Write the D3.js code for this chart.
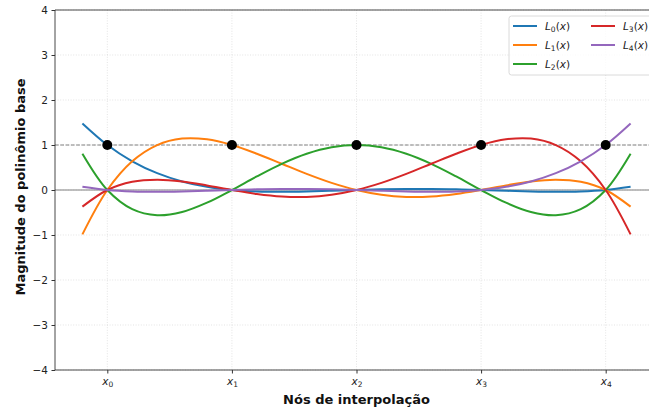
<!DOCTYPE html>
<html>
<head>
<meta charset="utf-8">
<script src="https://cdn.jsdelivr.net/npm/d3@7/dist/d3.min.js"></script>
<style>
  body { margin: 0; background: #fff; }
  svg { display: block; font-family: "DejaVu Sans", sans-serif; }
</style>
</head>
<body>
<svg id="chart" width="649" height="410"></svg>
<script>
// Interpolation nodes and sample abscissae
const nodes = [0, 1, 2, 3, 4];
const nodeLabels = ["0", "1", "2", "3", "4"];
const xs = [-0.2, 0, 0.2, 0.4, 0.6, 0.8, 1, 1.2, 1.4, 1.6, 1.8, 2, 2.2, 2.4, 2.6, 2.8, 3, 3.2, 3.4, 3.6, 3.8, 4, 4.2];

// Lagrange basis polynomial values at xs
const L0 = [1.4784, 1, 0.6384, 0.3744, 0.1904, 0.0704, 0, -0.0336, -0.0416, -0.0336, -0.0176, 0, 0.0144, 0.0224, 0.0224, 0.0144, 0, -0.0176, -0.0336, -0.0416, -0.0336, 0, 0.0704];
const L1 = [-0.9856, 0, 0.6384, 0.9984, 1.1424, 1.1264, 1, 0.8064, 0.5824, 0.3584, 0.1584, 0, -0.1056, -0.1536, -0.1456, -0.0896, 0, 0.1024, 0.1904, 0.2304, 0.1824, 0, -0.3696];
const L2 = [0.8064, 0, -0.4256, -0.5616, -0.4896, -0.2816, 0, 0.3024, 0.5824, 0.8064, 0.9504, 1, 0.9504, 0.8064, 0.5824, 0.3024, 0, -0.2816, -0.4896, -0.5616, -0.4256, 0, 0.8064];
const L3 = [-0.3696, 0, 0.1824, 0.2304, 0.1904, 0.1024, 0, -0.0896, -0.1456, -0.1536, -0.1056, 0, 0.1584, 0.3584, 0.5824, 0.8064, 1, 1.1264, 1.1424, 0.9984, 0.6384, 0, -0.9856];
const L4 = [0.0704, 0, -0.0336, -0.0416, -0.0336, -0.0176, 0, 0.0144, 0.0224, 0.0224, 0.0144, 0, -0.0176, -0.0336, -0.0416, -0.0336, 0, 0.0704, 0.1904, 0.3744, 0.6384, 1, 1.4784];

const seriesNames = ["0", "1", "2", "3", "4"];
const seriesValues = [L0, L1, L2, L3, L4];
const colors = ["#1f77b4", "#ff7f0e", "#2ca02c", "#d62728", "#9467bd"];
const yTicks = [-4, -3, -2, -1, 0, 1, 2, 3, 4];

const svg = d3.select("#chart");
const m = { left: 55, top: 10, right: 658, bottom: 370 };

const x = d3.scaleLinear().domain([-0.42, 4.42]).range([m.left, m.right]);
const y = d3.scaleLinear().domain([-4, 4]).range([m.bottom, m.top]);

svg.append("defs").append("clipPath").attr("id", "plotClip")
  .append("rect").attr("x", m.left).attr("y", m.top)
  .attr("width", m.right - m.left).attr("height", m.bottom - m.top);

// Grid
const grid = svg.append("g").attr("stroke", "#cfcfcf").attr("stroke-opacity", 0.7)
  .attr("stroke-width", 0.8).attr("stroke-dasharray", "1,1.6");
grid.selectAll("line.gy").data(yTicks).join("line")
  .attr("x1", m.left).attr("x2", m.right)
  .attr("y1", d => y(d)).attr("y2", d => y(d));
grid.selectAll("line.gx").data(nodes).join("line")
  .attr("x1", d => x(d)).attr("x2", d => x(d))
  .attr("y1", m.top).attr("y2", m.bottom);

const plot = svg.append("g").attr("clip-path", "url(#plotClip)");

// Reference lines at 0 and 1
plot.append("line").attr("x1", m.left).attr("x2", m.right)
  .attr("y1", y(0)).attr("y2", y(0))
  .attr("stroke", "#808080").attr("stroke-width", 1);
plot.append("line").attr("x1", m.left).attr("x2", m.right)
  .attr("y1", y(1)).attr("y2", y(1))
  .attr("stroke", "#808080").attr("stroke-width", 1)
  .attr("stroke-dasharray", "3.7,1.6");

// Basis curves
const line = d3.line().x(d => x(d[0])).y(d => y(d[1])).curve(d3.curveCatmullRom.alpha(0.5));
seriesValues.forEach((vals, i) => {
  plot.append("path")
    .datum(xs.map((xv, j) => [xv, vals[j]]))
    .attr("d", line)
    .attr("fill", "none")
    .attr("stroke", colors[i])
    .attr("stroke-width", 2);
});

// Node markers at (x_i, 1)
plot.selectAll("circle.node").data(nodes).join("circle")
  .attr("cx", d => x(d)).attr("cy", y(1)).attr("r", 5)
  .attr("fill", "#000");

// Axes
const yAxis = d3.axisLeft(y).tickValues(yTicks).tickSize(3.5).tickPadding(3.5)
  .tickFormat(d => d < 0 ? "\u2212" + Math.abs(d) : String(d));
const gy = svg.append("g").attr("transform", `translate(${m.left},0)`).call(yAxis);
gy.select(".domain").remove();
gy.selectAll("text").attr("font-size", 10.5).attr("fill", "#222").attr("font-family", "DejaVu Sans");
gy.selectAll("line").attr("stroke", "#333");

const xAxis = d3.axisBottom(x).tickValues(nodes).tickSize(3.5).tickPadding(3.5).tickFormat(() => "");
const gx = svg.append("g").attr("transform", `translate(0,${m.bottom})`).call(xAxis);
gx.select(".domain").remove();
gx.selectAll("line").attr("stroke", "#333");
gx.selectAll(".tick").each(function(d, i) {
  const t = d3.select(this).append("text")
    .attr("y", 15).attr("text-anchor", "middle")
    .attr("font-size", 10.5).attr("fill", "#222").attr("font-family", "DejaVu Sans");
  t.append("tspan").attr("font-style", "italic").text("x");
  t.append("tspan").attr("font-size", 7.5).attr("dy", 2.2).text(nodeLabels[i]);
});

// Spines (left, top, bottom)
const spine = svg.append("g").attr("stroke", "#333").attr("stroke-width", 0.9).attr("fill", "none");
spine.append("line").attr("x1", m.left).attr("x2", m.left).attr("y1", m.top).attr("y2", m.bottom);
spine.append("line").attr("x1", m.left).attr("x2", m.right).attr("y1", m.top).attr("y2", m.top);
spine.append("line").attr("x1", m.left).attr("x2", m.right).attr("y1", m.bottom).attr("y2", m.bottom);

// Axis titles
svg.append("text").attr("x", (m.left + m.right) / 2).attr("y", 404)
  .attr("text-anchor", "middle").attr("font-size", 13).attr("font-weight", "bold")
  .attr("fill", "#111").text("Nós de interpolação");
svg.append("text").attr("transform", `translate(25,${(m.top + m.bottom) / 2 - 3}) rotate(-90)`)
  .attr("text-anchor", "middle").attr("font-size", 13).attr("font-weight", "bold")
  .attr("fill", "#111").text("Magnitude do polinômio base");

// Legend
const lg = svg.append("g").attr("transform", "translate(509,16)");
lg.append("rect").attr("width", 150).attr("height", 59).attr("rx", 2.5)
  .attr("fill", "#fff").attr("fill-opacity", 0.8).attr("stroke", "#d0d0d0").attr("stroke-width", 0.8);
seriesNames.forEach((name, i) => {
  const col = i < 3 ? 0 : 1;
  const row = i < 3 ? i : i - 3;
  const gx0 = 4 + col * 78;
  const gy0 = 10 + row * 19;
  lg.append("line").attr("x1", gx0).attr("x2", gx0 + 24).attr("y1", gy0).attr("y2", gy0)
    .attr("stroke", colors[i]).attr("stroke-width", 2);
  const t = lg.append("text").attr("x", gx0 + 32).attr("y", gy0 + 4)
    .attr("font-size", 10.5).attr("fill", "#222");
  t.append("tspan").attr("font-style", "italic").text("L");
  t.append("tspan").attr("font-size", 7.5).attr("dy", 2.2).text(name);
  t.append("tspan").attr("dy", -2.2).text("(");
  t.append("tspan").attr("font-style", "italic").text("x");
  t.append("tspan").text(")");
});
</script>
</body>
</html>
